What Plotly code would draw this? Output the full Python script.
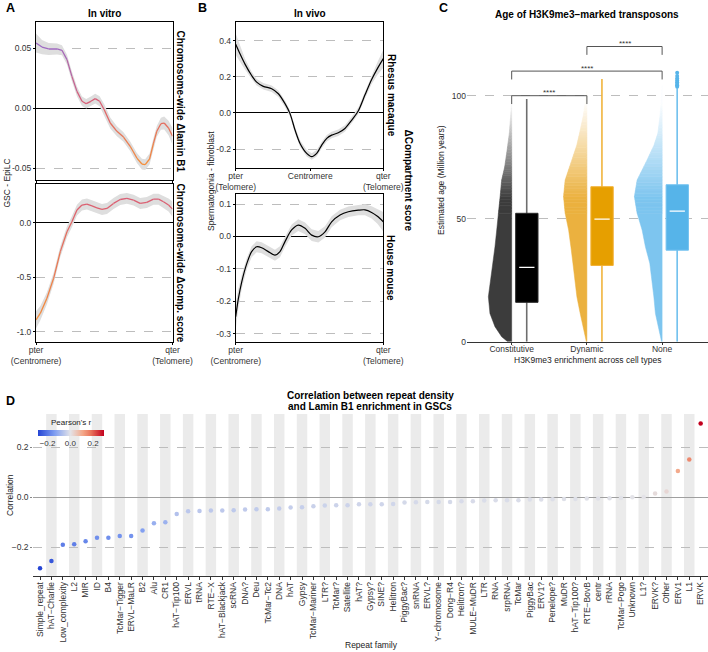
import plotly.graph_objects as go

W, H = 708, 652
FONT = "Liberation Sans, Arial, sans-serif"

# ---------------- Panel A : in vitro ----------------
a_lamin_pos = [0, 0.044, 0.093, 0.154, 0.190, 0.227, 0.263, 0.300, 0.337, 0.368, 0.402, 0.434, 0.466, 0.500,
               0.544, 0.593, 0.641, 0.690, 0.739, 0.776, 0.800, 0.832, 0.861, 0.885, 0.915, 0.939, 0.971, 1.0]
a_lamin_val = [0.0542, 0.0508, 0.0492, 0.0492, 0.0481, 0.0403, 0.0264, 0.0139, 0.0056, 0.0036, 0.0056, 0.0078,
               0.0056, -0.0014, -0.0125, -0.0194, -0.0242, -0.0319, -0.0417, -0.0467, -0.0472, -0.0425,
               -0.0292, -0.0194, -0.0131, -0.0125, -0.0167, -0.0236]
a_lamin_se = [0.008, 0.006, 0.005, 0.0045, 0.0042, 0.004, 0.004, 0.004, 0.004, 0.004, 0.004, 0.004, 0.0042,
              0.0045, 0.0045, 0.0042, 0.004, 0.004, 0.0042, 0.0045, 0.0045, 0.0045, 0.0045, 0.0045, 0.005,
              0.0055, 0.006, 0.007]
a_comp_pos = [0, 0.032, 0.080, 0.129, 0.178, 0.227, 0.263, 0.300, 0.337, 0.373, 0.410, 0.446, 0.483, 0.520,
              0.568, 0.617, 0.666, 0.715, 0.763, 0.812, 0.861, 0.898, 0.934, 0.971, 1.0]
a_comp_val = [-0.89, -0.829, -0.692, -0.509, -0.265, -0.082, 0.009, 0.116, 0.162, 0.171, 0.155, 0.137, 0.122,
              0.131, 0.177, 0.213, 0.223, 0.207, 0.177, 0.186, 0.216, 0.216, 0.192, 0.162, 0.125]
a_comp_se = [0.08, 0.065, 0.055, 0.05, 0.05, 0.05, 0.05, 0.05, 0.05, 0.05, 0.05, 0.05, 0.05, 0.05, 0.05, 0.05,
             0.05, 0.05, 0.05, 0.05, 0.05, 0.05, 0.055, 0.06, 0.07]
a_xticks = ['pter<br>(Centromere)', 'qter<br>(Telomere)']

# ---------------- Panel B : in vivo ----------------
b_rhesus_pos = [0, 0.029, 0.063, 0.108, 0.142, 0.187, 0.244, 0.289, 0.334, 0.368, 0.402, 0.436, 0.481, 0.515,
                0.549, 0.583, 0.617, 0.650, 0.695, 0.740, 0.786, 0.831, 0.876, 0.921, 0.960, 1.0]
b_rhesus_val = [0.38, 0.327, 0.27, 0.207, 0.17, 0.147, 0.134, 0.106, 0.051, -0.004, -0.095, -0.169, -0.224,
                -0.242, -0.224, -0.178, -0.141, -0.123, -0.110, -0.086, -0.04, 0.012, 0.10, 0.185, 0.245, 0.30]
b_rhesus_se = [0.06, 0.045, 0.03, 0.02, 0.018, 0.018, 0.018, 0.018, 0.018, 0.018, 0.018, 0.018, 0.018, 0.018,
               0.018, 0.018, 0.018, 0.018, 0.018, 0.018, 0.018, 0.018, 0.02, 0.025, 0.035, 0.05]
b_mouse_pos = [0, 0.018, 0.041, 0.075, 0.108, 0.142, 0.176, 0.221, 0.266, 0.300, 0.334, 0.379, 0.424, 0.470,
               0.515, 0.560, 0.605, 0.650, 0.707, 0.763, 0.831, 0.876, 0.921, 0.960, 1.0]
b_mouse_val = [-0.248, -0.192, -0.14, -0.084, -0.047, -0.032, -0.035, -0.047, -0.058, -0.047, -0.016, 0.02,
               0.035, 0.025, 0.004, -0.001, 0.014, 0.045, 0.066, 0.076, 0.081, 0.082, 0.074, 0.062, 0.045]
b_mouse_se = [0.04, 0.03, 0.022, 0.017, 0.017, 0.017, 0.017, 0.017, 0.017, 0.017, 0.017, 0.017, 0.018, 0.018,
              0.018, 0.018, 0.017, 0.017, 0.016, 0.016, 0.016, 0.017, 0.019, 0.023, 0.03]
b_xticks_top = ['pter<br>(Telomere)', 'Centromere', 'qter<br>(Telomere)']
b_xticks_bottom = ['pter<br>(Centromere)', 'qter<br>(Telomere)']

# ---------------- Panel C : transposon age ----------------
c_groups = ['Constitutive', 'Dynamic', 'None']
c_q1 = [16.0, 31.0, 37.2]
c_median = [30.2, 49.8, 53.1]
c_q3 = [52.2, 63.0, 63.8]
c_whisk_lo = [0, 0, 0]
c_whisk_hi = [98.7, 106.8, 103.0]
c_none_outliers = [103.6, 104.2, 104.8, 105.5, 106.2, 107.0, 108.0, 109.3]
c_const_age = [0, 2, 6.1, 11.5, 18.3, 25, 32, 38.6, 45, 52, 59, 65.7, 71, 78, 84.8, 92, 98]
c_const_dens = [0.053, 0.133, 0.222, 0.289, 0.31, 0.279, 0.246, 0.222, 0.2, 0.177, 0.153, 0.133, 0.093, 0.06,
                0.031, 0.013, 0]
c_dyn_age = [0, 4.8, 11.5, 18.3, 25.1, 31.9, 38.6, 45.4, 52.2, 59, 65.7, 73.9, 80, 84.8, 92, 98, 102]
c_dyn_dens = [0.007, 0.044, 0.089, 0.133, 0.156, 0.186, 0.213, 0.243, 0.289, 0.31, 0.289, 0.199, 0.133, 0.097,
              0.047, 0.02, 0]
c_none_age = [0, 4.8, 11.5, 18.3, 25.1, 31.9, 38.6, 45.4, 52.2, 59, 65.7, 73.9, 80, 84.7, 92, 98, 104]
c_none_dens = [0.007, 0.044, 0.089, 0.11, 0.133, 0.164, 0.222, 0.266, 0.332, 0.368, 0.332, 0.199, 0.106, 0.057,
               0.027, 0.013, 0]
c_sig_from = [1, 1, 2]
c_sig_to = [2, 3, 3]
c_sig_y = [100, 110, 120]
c_sig_label = ['****', '****', '****']

# ---------------- Panel D : repeat correlation ----------------
d_families = ['Simple_repeat', 'hAT−Charlie', 'Low_complexity', 'L2', 'MIR', 'ID', 'B4', 'TcMar−Tigger',
              'ERVL−MaLR', 'B2', 'Alu', 'CR1', 'hAT−Tip100', 'ERVL', 'tRNA', 'RTE−X', 'hAT−Blackjack', 'scRNA',
              'DNA?', 'Deu', 'TcMar−Tc2', 'DNA', 'hAT', 'Gypsy', 'TcMar−Mariner', 'LTR?', 'TcMar?', 'Satellite',
              'hAT?', 'Gypsy?', 'SINE?', 'Helitron', 'PiggyBac?', 'snRNA', 'ERVL?', 'Y−chromosome', 'Dong−R4',
              'Helitron?', 'MULE−MuDR', 'LTR', 'RNA', 'srpRNA', 'TcMar', 'PiggyBac', 'ERV1?', 'Penelope?', 'MuDR',
              'hAT−Tip100?', 'RTE−BovB', 'centr', 'rRNA', 'TcMar−Pogo', 'Unknown', 'L1?', 'ERVK?', 'Other',
              'ERV1', 'L1', 'ERVK']
d_corr = [-0.284, -0.255, -0.19, -0.188, -0.176, -0.162, -0.162, -0.155, -0.155, -0.133, -0.104, -0.100,
          -0.067, -0.056, -0.055, -0.053, -0.053, -0.052, -0.049, -0.048, -0.048, -0.045, -0.041, -0.040,
          -0.036, -0.033, -0.032, -0.032, -0.028, -0.028, -0.028, -0.027, -0.021, -0.020, -0.019, -0.019,
          -0.019, -0.016, -0.016, -0.013, -0.012, -0.012, -0.012, -0.009, -0.009, -0.008, -0.007, -0.007,
          -0.005, -0.005, -0.004, -0.003, 0.0, 0.001, 0.015, 0.023, 0.105, 0.151, 0.295]


# ---------------- helpers ----------------
def dx(a, b):
    return [a / W, b / W]


def dy(top, bottom):
    return [1 - bottom / H, 1 - top / H]


def mix(c1, c2, t):
    a = [int(c1[i:i + 2], 16) for i in (1, 3, 5)]
    b = [int(c2[i:i + 2], 16) for i in (1, 3, 5)]
    return '#%02x%02x%02x' % tuple(round(a[k] + (b[k] - a[k]) * t) for k in range(3))


ORANGE, PINK, PURPLE = '#F58F3A', '#DA5E74', '#9A6BC8'


def ramp(t):
    t = max(0.0, min(1.0, t))
    if t < 0.5:
        return mix(ORANGE, PINK, t / 0.5)
    return mix(PINK, PURPLE, (t - 0.5) / 0.5)


fig = go.Figure()


def ribbon(pos, val, se, xa, ya):
    up = [v + s for v, s in zip(val, se)]
    lo = [v - s for v, s in zip(val, se)]
    fig.add_trace(go.Scatter(x=pos + pos[::-1], y=up + lo[::-1], fill='toself', fillcolor='#DEDEDE',
                             mode='lines', line=dict(width=0), hoverinfo='skip', xaxis=xa, yaxis=ya))


def grad_line(pos, val, xa, ya, tfun):
    for i in range(len(pos) - 1):
        c = ramp(tfun((val[i] + val[i + 1]) / 2))
        fig.add_trace(go.Scatter(x=pos[i:i + 2], y=val[i:i + 2], mode='lines', line=dict(color=c, width=1.3),
                                 hoverinfo='skip', xaxis=xa, yaxis=ya))


# Panel A
ribbon(a_lamin_pos, a_lamin_val, a_lamin_se, 'x', 'y')
lmin, lmax = min(a_lamin_val), max(a_lamin_val)
grad_line(a_lamin_pos, a_lamin_val, 'x', 'y', lambda v: (v - lmin) / (lmax - lmin))
ribbon(a_comp_pos, a_comp_val, a_comp_se, 'x2', 'y2')
cmin_, cmax_ = min(a_comp_val), max(a_comp_val)
grad_line(a_comp_pos, a_comp_val, 'x2', 'y2', lambda v: 0.5 * (v - cmin_) / (cmax_ - cmin_))

# Panel B
ribbon(b_rhesus_pos, b_rhesus_val, b_rhesus_se, 'x3', 'y3')
fig.add_trace(go.Scatter(x=b_rhesus_pos, y=b_rhesus_val, mode='lines', line=dict(color='black', width=1.2,
                         shape='spline', smoothing=0.8), hoverinfo='skip', xaxis='x3', yaxis='y3'))
ribbon(b_mouse_pos, b_mouse_val, b_mouse_se, 'x4', 'y4')
fig.add_trace(go.Scatter(x=b_mouse_pos, y=b_mouse_val, mode='lines', line=dict(color='black', width=1.2,
                         shape='spline', smoothing=0.8), hoverinfo='skip', xaxis='x4', yaxis='y4'))

# Panel C
violin_cols = ['#3C3C3C', '#EBB13F', '#7DC5EF']
box_fill = ['#000000', '#E69F00', '#56B4E9']
box_line = ['#2A2A2A', '#F2B136', '#74C3F0']
whisk_col = ['#6E6E6E', '#F0B43C', '#6FC0EE']
violins = [(c_const_age, c_const_dens), (c_dyn_age, c_dyn_dens), (c_none_age, c_none_dens)]
FADE_START, FADE_SPAN, SLICES = 58, 40, 6
for g, (ages, dens) in enumerate(violins):
    cx = g + 1
    col = violin_cols[g]
    k = max(i for i, a in enumerate(ages) if a <= FADE_START)
    xs = [cx - d for d in dens[:k + 1]] + [cx, cx]
    ys = ages[:k + 1] + [ages[k], ages[0]]
    fig.add_trace(go.Scatter(x=xs, y=ys, fill='toself', fillcolor=col, mode='lines',
                             line=dict(width=0.5, color=col), hoverinfo='skip', xaxis='x5', yaxis='y5'))
    # upper part drawn in thin slices so that it fades to white (gradient look)
    for i in range(k, len(ages) - 1):
        for s in range(SLICES):
            f0, f1 = s / SLICES, (s + 1) / SLICES
            a0 = ages[i] + (ages[i + 1] - ages[i]) * f0
            a1 = ages[i] + (ages[i + 1] - ages[i]) * f1
            w0 = dens[i] + (dens[i + 1] - dens[i]) * f0
            w1 = dens[i] + (dens[i + 1] - dens[i]) * f1
            mid = (a0 + a1) / 2
            alpha = max(0.03, min(1.0, 1 - (mid - FADE_START) / FADE_SPAN))
            sc = mix('#FFFFFF', col, alpha)
            fig.add_trace(go.Scatter(x=[cx - w0, cx, cx, cx - w1, cx - w0], y=[a0, a0, a1, a1, a0],
                                     fill='toself', fillcolor=sc, mode='lines', line=dict(width=0.6, color=sc),
                                     hoverinfo='skip', xaxis='x5', yaxis='y5'))
for g in range(3):
    cx = g + 1
    fig.add_trace(go.Scatter(x=[cx + 0.2, cx + 0.2], y=[c_whisk_lo[g], c_whisk_hi[g]], mode='lines',
                             line=dict(color=whisk_col[g], width=1.6), hoverinfo='skip', xaxis='x5', yaxis='y5'))
    fig.add_trace(go.Scatter(x=[cx + 0.053, cx + 0.35, cx + 0.35, cx + 0.053, cx + 0.053],
                             y=[c_q1[g], c_q1[g], c_q3[g], c_q3[g], c_q1[g]], fill='toself',
                             fillcolor=box_fill[g], mode='lines', line=dict(color=box_line[g], width=1),
                             hoverinfo='skip', xaxis='x5', yaxis='y5'))
    fig.add_trace(go.Scatter(x=[cx + 0.1, cx + 0.303], y=[c_median[g], c_median[g]], mode='lines',
                             line=dict(color='white', width=1.3), hoverinfo='skip', xaxis='x5', yaxis='y5'))
fig.add_trace(go.Scatter(x=[3.2] * len(c_none_outliers), y=c_none_outliers, mode='markers',
                         marker=dict(color='#56B4E9', size=4), hoverinfo='skip', xaxis='x5', yaxis='y5'))
annotations = []
for a, b, yv, lab in zip(c_sig_from, c_sig_to, c_sig_y, c_sig_label):
    fig.add_trace(go.Scatter(x=[a, a, b, b], y=[yv - 3.4, yv, yv, yv - 3.4], mode='lines',
                             line=dict(color='#555555', width=1), hoverinfo='skip', xaxis='x5', yaxis='y5'))
    annotations.append(dict(x=(a + b) / 2, y=yv, xref='x5', yref='y5', text=lab, showarrow=False,
                            yanchor='middle', yshift=3, font=dict(size=8, color='#333')))

# Panel D
d_idx = list(range(len(d_families)))
fig.add_trace(go.Scatter(
    x=d_idx, y=d_corr, mode='markers', hoverinfo='skip', xaxis='x6', yaxis='y6',
    marker=dict(size=4.5, color=d_corr,
                colorscale=[[0, '#2545D4'], [0.25, '#7E9DF1'], [0.49, '#E3E3E8'], [0.68, '#F4A788'],
                            [0.8, '#E9755C'], [1, '#C2001E']],
                showscale=True,
                colorbar=dict(orientation='h', x=71 / W, xanchor='center', y=1 - 429.5 / H, yanchor='top',
                              len=66, lenmode='pixels', thickness=6, thicknessmode='pixels',
                              tickvals=[-0.2, 0, 0.2], ticktext=['−0.2', '0.0', '0.2'], ticks='',
                              tickfont=dict(size=8, color='#333', family=FONT), outlinewidth=0,
                              xpad=0, ypad=0))))

shapes = []
for i in d_idx:
    if i % 2 == 1:
        shapes.append(dict(type='rect', xref='x6', yref='y6 domain', x0=i - 0.46, x1=i + 0.46, y0=0, y1=1,
                           fillcolor='#EBEBEB', line=dict(width=0), layer='below'))

# ---------------- axes ----------------
TF = dict(size=8.5, color='#333', family=FONT)
box_axis = dict(showline=True, mirror=True, linecolor='black', linewidth=1, ticks='outside', ticklen=2,
                tickcolor='black', tickfont=TF, zeroline=False)
grid_y = dict(showgrid=True, gridcolor='#BDBDBD', griddash='dash', gridwidth=1)
XSTAND = -2

layout = dict(
    width=W, height=H, margin=dict(l=0, r=0, t=0, b=0, autoexpand=False),
    plot_bgcolor='white', paper_bgcolor='white', showlegend=False,
    font=dict(family=FONT, color='#222'),
    xaxis=dict(domain=dx(36, 172.5), range=[0, 1], anchor='y', tickvals=[0, 1], showticklabels=False,
               showgrid=False, **box_axis),
    yaxis=dict(domain=dy(22, 180), range=[-0.06, 0.0717], anchor='x', tickvals=[-0.05, 0, 0.05],
               ticktext=['-0.05', '0.00', '0.05'], **box_axis, **grid_y),
    xaxis2=dict(domain=dx(36, 172.5), range=[0, 1], anchor='y2', tickvals=[0, 1], ticktext=a_xticks,
                showgrid=False, ticklabelstandoff=XSTAND, **box_axis),
    yaxis2=dict(domain=dy(184, 341.7), range=[-1.09, 0.355], anchor='x2', tickvals=[-1, -0.5, 0],
                ticktext=['-1.0', '-0.5', '0.0'], **box_axis, **grid_y),
    xaxis3=dict(domain=dx(235.7, 383.3), range=[0, 1], anchor='y3', tickvals=[0, 0.505, 1],
                ticktext=b_xticks_top, showgrid=False, ticklabelstandoff=XSTAND, **box_axis),
    yaxis3=dict(domain=dy(22, 168), range=[-0.305, 0.503], anchor='x3', tickvals=[-0.2, 0, 0.2, 0.4],
                ticktext=['-0.2', '0.0', '0.2', '0.4'], **box_axis, **grid_y),
    xaxis4=dict(domain=dx(235.7, 383.3), range=[0, 1], anchor='y4', tickvals=[0, 1], ticktext=b_xticks_bottom,
                showgrid=False, ticklabelstandoff=XSTAND, **box_axis),
    yaxis4=dict(domain=dy(194.3, 341.7), range=[-0.325, 0.13], anchor='x4', tickvals=[-0.3, -0.2, -0.1, 0, 0.1],
                ticktext=['-0.3', '-0.2', '-0.1', '0.0', '0.1'], **box_axis, **grid_y),
    xaxis5=dict(domain=dx(467, 708), range=[0.406, 3.61], anchor='y5', tickvals=[1, 2, 3], ticktext=c_groups,
                showline=True, linecolor='#333', linewidth=1, ticks='outside', ticklen=2, tickcolor='#333',
                tickfont=TF, showgrid=False, zeroline=False, ticklabelstandoff=-3),
    yaxis5=dict(domain=dy(34.2, 341.7), range=[0, 125], anchor='x5', tickvals=[0, 50, 100], tickfont=TF,
                showline=False, ticks='', showgrid=True, gridcolor='#BDBDBD', griddash='dash', zeroline=False),
    xaxis6=dict(domain=dx(33.2, 707.5), range=[-0.6, 58.6], anchor='y6', tickvals=d_idx, ticktext=d_families,
                tickangle=-90, tickfont=dict(size=8.5, color='#333', family=FONT), showline=True, linecolor='#333',
                linewidth=1, ticks='outside', ticklen=3, tickcolor='#333', showgrid=False, zeroline=False,
                ticklabelstandoff=-1),
    yaxis6=dict(domain=dy(414, 575.7), range=[-0.314, 0.333], anchor='x6', tickvals=[-0.2, 0, 0.2],
                ticktext=['−0.2', '0.0', '0.2'], tickfont=TF, showline=False, ticks='outside', ticklen=2,
                tickcolor='#888', showgrid=True, gridcolor='#BDBDBD', griddash='dash', zeroline=True,
                zerolinecolor='#A0A0A0', zerolinewidth=1),
    shapes=shapes,
)
for k in ('yaxis', 'yaxis2', 'yaxis3', 'yaxis4'):
    layout[k].update(zeroline=True, zerolinecolor='black', zerolinewidth=1)


def ann(x, y, text, size=8.5, bold=False, angle=0, color='#222'):
    annotations.append(dict(x=x / W, y=1 - y / H, xref='paper', yref='paper', text=('<b>%s</b>' % text) if bold else text,
                            showarrow=False, xanchor='center', yanchor='middle', textangle=angle,
                            font=dict(size=size, color=color, family=FONT)))


ann(10, 8.5, 'A', 12.5, True, color='black')
ann(202, 8.5, 'B', 12.5, True, color='black')
ann(443, 8.5, 'C', 12.5, True, color='black')
ann(10, 401, 'D', 12.5, True, color='black')
ann(104.25, 13.5, 'In vitro', 10, True, color='black')
ann(309.5, 13.5, 'In vivo', 10, True, color='black')
ann(586.5, 14.5, 'Age of H3K9me3−marked transposons', 10, True, color='black')
ann(370, 395.5, 'Correlation between repeat density', 10, True, color='black')
ann(370, 406.5, 'and Lamin B1 enrichment in GSCs', 10, True, color='black')
ann(180.5, 101, 'Chromosome-wide Δlamin B1', 10, True, 90, 'black')
ann(180.5, 263, 'Chromosome-wide Δcomp. score', 10, True, 90, 'black')
ann(391, 95, 'Rhesus macaque', 10, True, 90, 'black')
ann(391, 268, 'House mouse', 10, True, 90, 'black')
ann(407.5, 180, 'ΔCompartment score', 10, True, 90, 'black')
ann(6.5, 183, 'GSC - EpiLC', 8.5, False, -90)
ann(211, 181, 'Spermatogonia - fibroblast', 8.5, False, -90)
ann(441, 180, 'Estimated age (Million years)', 8.5, False, -90)
ann(587.5, 360, 'H3K9me3 enrichment across cell types', 8.5)
ann(10, 495, 'Correlation', 8.5, False, -90)
ann(371, 645, 'Repeat family', 8.5)
ann(71, 422, "Pearson's r", 8)

layout['annotations'] = annotations
fig.update_layout(**layout)
fig.write_html("out.html", config={'displayModeBar': False},
               post_script="document.body.style.margin='0';document.body.style.padding='0';")
